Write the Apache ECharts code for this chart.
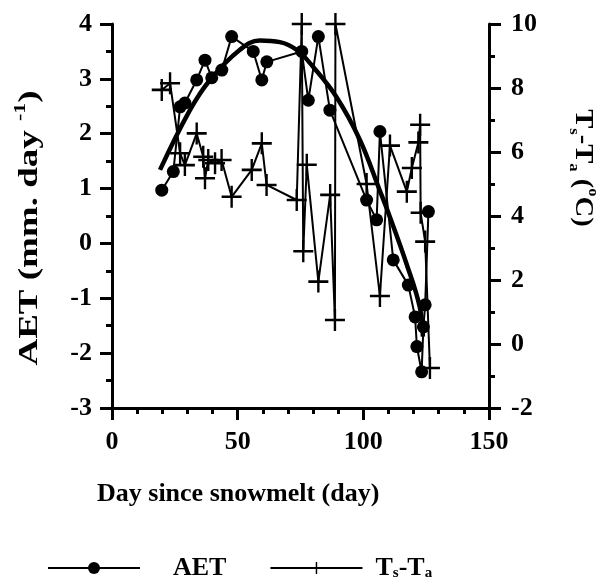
<!DOCTYPE html>
<html>
<head>
<meta charset="utf-8">
<script src="https://cdn.jsdelivr.net/npm/echarts@6/dist/echarts.min.js"></script>
<style>
  html, body { margin: 0; padding: 0; background: #fff; }
  #chart { width: 607px; height: 578px; }
</style>
</head>
<body>
<div id="chart"></div>
<script>
// AET (left axis, mm/day)
const aetDay = [19.8, 24.4, 27.1, 29.0, 33.7, 37.0, 39.7, 43.7, 47.6, 56.2, 59.6, 61.6, 75.5, 78.1, 82.1, 86.7, 101.3, 105.3, 106.6, 111.9, 117.9, 120.6, 121.3, 123.2, 123.9, 124.6, 125.9];
const aetVal = [0.97, 1.31, 2.49, 2.56, 2.98, 3.34, 3.02, 3.16, 3.77, 3.50, 2.98, 3.31, 3.50, 2.61, 3.77, 2.43, 0.79, 0.43, 2.04, -0.30, -0.76, -1.34, -1.88, -2.34, -1.52, -1.12, 0.58];

// Ts-Ta (right axis, deg C), in the order the line is drawn
const tsDay = [19.8, 23.1, 27.1, 29.0, 33.7, 36.3, 37.0, 38.3, 41.0, 43.6, 47.6, 55.6, 59.6, 61.5, 73.5, 75.5, 76.1, 77.5, 82.1, 86.8, 88.7, 88.9, 101.3, 106.6, 110.6, 117.3, 119.3, 121.9, 122.6, 122.8, 124.6, 126.5];
const tsVal = [7.94, 8.15, 5.96, 5.59, 6.58, 5.85, 5.18, 5.75, 5.65, 5.75, 4.60, 5.44, 6.27, 4.97, 4.50, 10, 2.9, 5.6, 1.95, 4.66, 0.75, 10, 5.0, 1.5, 6.2, 4.76, 5.5, 6.3, 6.85, 4.1, 3.2, -0.75];

// fitted AET curve (thick line)
const fitDay = [19.1, 31.0, 39.0, 50.9, 58.8, 66.8, 73.4, 80.0, 89.3, 98.6, 106.5, 110.5, 117.1, 122.4, 123.7];
const fitVal = [1.34, 2.43, 2.98, 3.53, 3.70, 3.67, 3.53, 3.22, 2.67, 1.89, 0.97, 0.49, -0.36, -1.15, -1.70];

const font = "'Liberation Serif', 'Times New Roman', serif";
const crossPath = 'path://M-1.2,-10 L1.2,-10 L1.2,-1.2 L10,-1.2 L10,1.2 L1.2,1.2 L1.2,10 L-1.2,10 L-1.2,1.2 L-10,1.2 L-10,-1.2 L-1.2,-1.2 Z';

const zip = (xs, ys) => xs.map((x, i) => [x, ys[i]]);

const axisCommon = {
  axisLine: { show: true, onZero: false, lineStyle: { color: '#000', width: 3 } },
  axisTick: { show: true, inside: false, length: 12, lineStyle: { color: '#000', width: 3 } },
  minorTick: { show: true, length: 6, lineStyle: { color: '#000', width: 3 } },
  splitLine: { show: false },
  axisLabel: { color: '#000', fontFamily: font, fontWeight: 'bold', fontSize: 26 }
};

const myChart = echarts.init(document.getElementById('chart'), null, { renderer: 'canvas' });

const option = {
  animation: false,
  backgroundColor: '#fff',
  grid: { left: 112, right: 118, top: 24, bottom: 170, containLabel: false },
  xAxis: {
    type: 'value', min: 0, max: 150, interval: 50,
    ...axisCommon,
    minorTick: { ...axisCommon.minorTick, splitNumber: 5 },
    axisLabel: { ...axisCommon.axisLabel, margin: 21 }
  },
  yAxis: [
    {
      type: 'value', position: 'left', min: -3, max: 4, interval: 1,
      ...axisCommon,
      minorTick: { ...axisCommon.minorTick, splitNumber: 2 },
      axisLabel: { ...axisCommon.axisLabel, margin: 20 }
    },
    {
      type: 'value', position: 'right', min: -2, max: 10, interval: 2,
      ...axisCommon,
      minorTick: { ...axisCommon.minorTick, splitNumber: 2 },
      axisLabel: { ...axisCommon.axisLabel, margin: 22 }
    }
  ],
  legend: {
    left: 42, top: 550,
    itemWidth: 92, itemHeight: 15, itemGap: 43,
    data: [
      { name: 'AET', textStyle: { padding: [0, 0, 0, 28] } },
      { name: 'Ts-Ta', textStyle: { padding: [0, 0, 0, 8] } }
    ],
    textStyle: {
      color: '#000', fontFamily: font, fontWeight: 'bold', fontSize: 26, lineHeight: 26,
      rich: {
        m: { fontFamily: font, fontWeight: 'bold', fontSize: 26, lineHeight: 26 },
        s: { fontFamily: font, fontWeight: 'bold', fontSize: 15, verticalAlign: 'bottom', lineHeight: 26 }
      }
    },
    formatter: name => name === 'Ts-Ta' ? '{m|T}{s|s}{m|-T}{s|a}' : name
  },
  graphic: [
    {
      type: 'text', left: 97, top: 481,
      style: { text: 'Day since snowmelt (day)', font: `bold 26px ${font}`, fill: '#000' }
    },
    {
      type: 'text', x: 30, y: 228, rotation: Math.PI / 2, scaleX: 1.37,
      style: {
        text: '{m|AET (mm. day }{sup|-1}{m|)}', align: 'center', verticalAlign: 'middle',
        rich: {
          m: { fontFamily: font, fontWeight: 'bold', fontSize: 27, lineHeight: 34, fill: '#000' },
          sup: { fontFamily: font, fontWeight: 'bold', fontSize: 16, verticalAlign: 'top', lineHeight: 34, fill: '#000' }
        }
      }
    },
    {
      type: 'text', x: 583, y: 168, rotation: -Math.PI / 2, scaleX: 1.1,
      style: {
        text: '{m|T}{s|s}{m|-T}{s|a}{m| (}{sup|o}{m|C)}', align: 'center', verticalAlign: 'middle',
        rich: {
          m: { fontFamily: font, fontWeight: 'bold', fontSize: 26, lineHeight: 34, fill: '#000' },
          s: { fontFamily: font, fontWeight: 'bold', fontSize: 15, verticalAlign: 'bottom', lineHeight: 34, fill: '#000' },
          sup: { fontFamily: font, fontWeight: 'bold', fontSize: 15, verticalAlign: 'top', lineHeight: 34, fill: '#000' }
        }
      }
    }
  ],
  series: [
    {
      name: 'fit', type: 'line', yAxisIndex: 0, smooth: 0.4, showSymbol: false,
      lineStyle: { color: '#000', width: 4.5 },
      data: zip(fitDay, fitVal), z: 3
    },
    {
      name: 'AET', type: 'line', yAxisIndex: 0,
      symbol: 'circle', symbolSize: 13,
      itemStyle: { color: '#000' },
      lineStyle: { color: '#000', width: 2 },
      data: zip(aetDay, aetVal), z: 4
    },
    {
      name: 'Ts-Ta', type: 'line', yAxisIndex: 1,
      symbol: crossPath, symbolSize: [20, 22],
      itemStyle: { color: '#000' },
      lineStyle: { color: '#000', width: 2 },
      data: zip(tsDay, tsVal), z: 4, clip: false
    }
  ]
};

option && myChart.setOption(option);
</script>
</body>
</html>
